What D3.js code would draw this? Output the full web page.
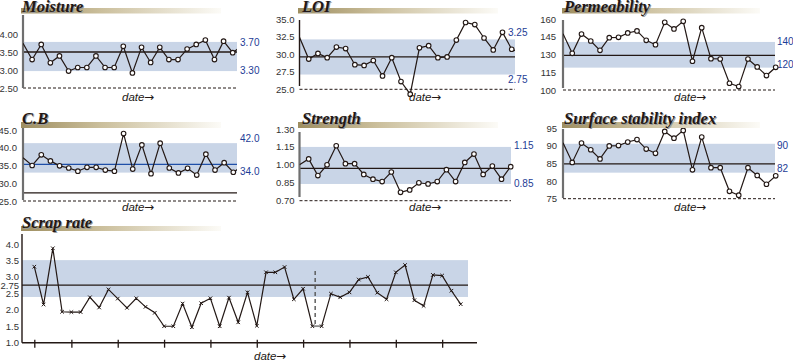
<!DOCTYPE html>
<html>
<head>
<meta charset="utf-8">
<script src="https://cdn.jsdelivr.net/npm/d3@7"></script>
<style>
body { margin: 0; background: #fff; }
svg { display: block; font-family: "Liberation Sans", Arial, sans-serif; }
</style>
</head>
<body>
<svg id="chart" width="793" height="361"></svg>
<script>
// ---- data (first value sits on the axis, extra last value runs past the edge) ----
var moisture = [3.74,3.29,3.71,3.20,3.39,2.97,3.07,3.07,3.39,3.07,3.07,3.66,2.92,3.63,3.21,3.63,3.29,3.29,3.58,3.71,3.83,3.29,3.80,3.48,3.67];
var loi = [32.4,29.3,30.1,29.5,31.0,30.8,28.5,28.4,29.1,26.9,29.5,26.1,24.3,30.9,31.2,29.5,29.6,32.0,34.5,34.2,32.3,30.6,33.1,30.7,30.2];
var permeability = [147.6,131.0,147.3,141.4,133.5,144.2,144.5,148.2,149.9,142.0,138.3,157.2,151.6,158.0,124.3,152.7,126.5,126.2,105.7,102.9,126.2,119.5,112.2,119.2];
var cb = [37.2,35.0,38.0,36.3,34.9,34.3,33.4,34.5,34.5,33.7,33.4,44.0,34.0,40.8,32.7,41.3,34.3,32.9,34.2,32.3,38.2,33.7,35.8,33.1,34.9];
var strength = [1.00,1.05,0.91,1.00,1.16,1.01,1.01,0.92,0.88,0.86,0.94,0.77,0.79,0.85,0.84,0.86,0.96,0.86,1.02,1.09,0.92,0.99,0.88,0.985];
var surface = [90.9,85.3,90.8,88.9,86.3,90.0,90.1,91.1,91.8,89.1,87.9,94.1,92.2,94.4,83.2,92.5,83.8,83.8,77.1,76.0,83.8,81.6,79.1,81.5];
var scrap = [3.31,2.16,3.87,1.94,1.93,1.93,2.38,2.07,2.62,2.34,2.06,2.35,2.09,1.91,1.50,1.50,2.19,1.47,2.20,2.35,1.50,2.37,1.62,2.53,
             1.51,3.14,3.14,3.30,2.32,2.64,1.50,1.50,2.49,2.38,2.53,2.92,3.00,2.52,2.32,3.14,3.36,2.29,2.12,3.06,3.04,2.58,2.17];

// shaded band [low, high], centre line, limit texts, tick values
var moistureBand = [2.97, 3.78], moistureCenter = 3.5, moistureLimits = ["3.70", "3.30"], moistureTicks = [2.5, 3.0, 3.5, 4.0];
var loiBand = [27.1, 32.1], loiCenter = 29.6, loiLimits = ["3.25", "2.75"], loiTicks = [25, 27.5, 30, 32.5, 35];
var permBand = [118.9, 140.6], permCenter = 129.3, permLimits = ["140", "120"], permTicks = [100, 115, 130, 145, 160];
var cbBand = [33.0, 41.3], cbCenter = 35.3, cbLower = 27.3, cbLimits = ["42.0", "34.0"], cbTicks = [25, 30, 35, 40, 45];
var strengthBand = [0.84, 1.15], strengthCenter = 0.97, strengthLimits = ["1.15", "0.85"], strengthTicks = [0.70, 0.85, 1.00, 1.15, 1.30];
var surfaceBand = [82.4, 90.6], surfaceCenter = 84.9, surfaceLimits = ["90", "82"], surfaceTicks = [75, 80, 85, 90, 95];
var scrapBand = [2.39, 3.51], scrapCenter = 2.75, scrapTicks = [1.0, 1.5, 2.0, 2.5, 2.75, 3.0, 3.5, 4.0];
var scrapDateTicks = [0, 4, 9, 14, 19, 24, 29, 34, 39, 44];
var scrapBreak = {at: 30.3, from: 1.48, to: 3.18, grey: [30, 31]};

var ink = "#231815", bandFill = "#c9d5e7", limitBlue = "#1d3c96";

var svg = d3.select("#chart");
var defs = svg.append("defs");
var grad = defs.append("linearGradient").attr("id", "bar");
grad.append("stop").attr("offset", "0%").attr("stop-color", "#9e8e60");
grad.append("stop").attr("offset", "40%").attr("stop-color", "#cbbf9c");
grad.append("stop").attr("offset", "100%").attr("stop-color", "#fcfbf7");

function drawTitle(text, x, base, barX, barY, barW, barH) {
    svg.append("rect").attr("x", barX).attr("y", barY)
        .attr("width", barW).attr("height", barH).attr("fill", "url(#bar)");
    [["#9a9a9a", 1], [ink, 0]].forEach(function(s) {
        svg.append("text").attr("x", x + s[1]).attr("y", base + s[1])
            .attr("font-family", "'Liberation Serif', 'Times New Roman', serif")
            .attr("font-weight", "bold").attr("font-style", "italic")
            .attr("font-size", 16.5).attr("fill", s[0]).text(text);
    });
}

function drawDate(x, base) {
    var t = svg.append("text").attr("x", x).attr("y", base)
        .attr("font-size", 11.5).attr("fill", ink);
    t.append("tspan").attr("font-style", "italic").text("date");
    t.append("tspan").attr("font-family", "'DejaVu Sans', sans-serif")
        .attr("font-size", 12).attr("dx", -0.5).text("→");
}

function drawPanel(p, i) {
    var g = svg.append("g");
    var x = d3.scaleLinear().domain([0, 23]).range([p.x0, p.xLast]);
    var y = d3.scaleLinear().domain(p.yDomain).range(p.yRange);

    g.append("rect")
        .attr("x", p.x0).attr("width", p.x1 - p.x0)
        .attr("y", y(p.band[1])).attr("height", y(p.band[0]) - y(p.band[1]))
        .attr("fill", bandFill);

    g.append("line").attr("x1", p.x0).attr("x2", p.x1)
        .attr("y1", y(p.center)).attr("y2", y(p.center))
        .attr("stroke", p.centerColor || ink).attr("stroke-width", 1.3);
    if (p.lower !== undefined) {
        g.append("line").attr("x1", p.x0).attr("x2", p.x1)
            .attr("y1", y(p.lower)).attr("y2", y(p.lower))
            .attr("stroke", ink).attr("stroke-width", 1.3);
    }

    // dashed baseline
    g.append("line").attr("x1", p.x0).attr("x2", p.x1)
        .attr("y1", y(p.yDomain[0])).attr("y2", y(p.yDomain[0]))
        .attr("stroke", ink).attr("stroke-dasharray", "3,2");

    // left axis
    g.append("line").attr("x1", p.x0).attr("x2", p.x0)
        .attr("y1", p.axisTop).attr("y2", p.axisBottom)
        .attr("stroke", p.axisColor).attr("stroke-width", p.axisWidth);

    var ax = g.append("g").attr("transform", `translate(${p.x0},0)`)
        .call(d3.axisLeft(y).tickValues(p.ticks).tickFormat(d3.format(p.fmt)).tickSize(0).tickPadding(p.pad));
    ax.select(".domain").remove();
    ax.selectAll("text").attr("font-size", 9.5).attr("fill", "#333")
        .attr("font-family", "'Liberation Sans', Arial, sans-serif");

    // limit labels
    [[p.band[1], p.limits[0], p.dyTop], [p.band[0], p.limits[1], p.dyBottom]].forEach(function(l) {
        g.append("text").attr("x", p.labelX).attr("y", y(l[0]) + l[2]).attr("dy", "0.35em")
            .attr("font-size", 10).attr("fill", limitBlue).text(l[1]);
    });

    // series
    var clipId = "clip" + i;
    defs.append("clipPath").attr("id", clipId).append("rect")
        .attr("x", p.x0).attr("y", 0).attr("width", p.x1 - p.x0).attr("height", 361);
    var line = d3.line().x((d, k) => x(k)).y(d => y(d));
    g.append("path").attr("d", line(p.values)).attr("clip-path", `url(#${clipId})`)
        .attr("fill", "none").attr("stroke", ink).attr("stroke-width", 1.2);
    g.selectAll("circle").data(p.values.slice(0, 24))
        .enter().filter((d, k) => k > 0)
        .append("circle")
        .attr("cx", (d, k) => x(k + 1)).attr("cy", d => y(d))
        .attr("r", 2.3).attr("fill", "#fff").attr("stroke", ink).attr("stroke-width", 1.1);

    drawTitle(p.title, p.titleX, p.titleBase, p.barX, p.barY, p.barW, p.barH);
    drawDate(p.dateX, p.dateBase);
}

var col = [
    {x0: 23, x1: 237, labelX: 240, dateX: 122, barX: 21, barW: 200, titleX: 22},
    {x0: 299.5, x1: 515, labelX: 508, dateX: 409, barX: 298, barW: 200, titleX: 302},
    {x0: 563, x1: 775, labelX: 777, dateX: 674, barX: 562, barW: 198, titleX: 564}
];
var row = [
    {barY: 8, barH: 5.5, titleBase: 11.5, dateBase: 101},
    {barY: 122, barH: 6, titleBase: 124, dateBase: 211}
];

var panels = [
    {title: "Moisture", values: moisture, band: moistureBand, center: moistureCenter, limits: moistureLimits,
     ticks: moistureTicks, fmt: ".2f", c: 0, r: 0, xLast: 232.7, yDomain: [2.5, 4.5], yRange: [88, 16],
     axisTop: 15, axisBottom: 88, axisColor: "#6f6f6f", axisWidth: 2.2, pad: 5, dyTop: 1, dyBottom: -1},
    {title: "LOI", values: loi, band: loiBand, center: loiCenter, limits: loiLimits,
     ticks: loiTicks, fmt: ".1f", c: 1, r: 0, xLast: 511.7, yDomain: [25, 35], yRange: [89.3, 19],
     axisTop: 20, axisBottom: 86, axisColor: ink, axisWidth: 1.4, pad: 5, dyTop: -7, dyBottom: 5},
    {title: "Permeability", values: permeability, band: permBand, center: permCenter, limits: permLimits,
     ticks: permTicks, fmt: "d", c: 2, r: 0, xLast: 775.7, yDomain: [100, 160], yRange: [90, 19],
     axisTop: 20, axisBottom: 88, axisColor: "#6f6f6f", axisWidth: 2.2, pad: 7, dyTop: 0, dyBottom: -3},
    {title: "C.B", values: cb, band: cbBand, center: cbCenter, centerColor: "#1f4fa8", lower: cbLower, limits: cbLimits,
     ticks: cbTicks, fmt: ".1f", c: 0, r: 1, xLast: 233.3, yDomain: [25, 45], yRange: [201, 130],
     axisTop: 128, axisBottom: 200, axisColor: "#6f6f6f", axisWidth: 2.2, pad: 6, dyTop: -5, dyBottom: -1},
    {title: "Strength", values: strength, band: strengthBand, center: strengthCenter, limits: strengthLimits,
     ticks: strengthTicks, fmt: ".2f", c: 1, r: 1, xLast: 510.7, yDomain: [0.7, 1.3], yRange: [200.7, 129],
     axisTop: 132, axisBottom: 197, axisColor: "#6f6f6f", axisWidth: 2.2, pad: 5, dyTop: -1, dyBottom: 0},
    {title: "Surface stability index", values: surface, band: surfaceBand, center: surfaceCenter, limits: surfaceLimits,
     ticks: surfaceTicks, fmt: "d", c: 2, r: 1, xLast: 775.7, yDomain: [75, 95], yRange: [198.7, 128.3],
     axisTop: 129, axisBottom: 198, axisColor: "#6f6f6f", axisWidth: 2.2, pad: 6, dyTop: 2, dyBottom: -4}
];

panels.forEach(function(p, i) {
    var c = col[p.c], r = row[p.r];
    var cfg = Object.assign({}, c, r, p);
    if (p.title === "Strength") { cfg.x1 = 511; cfg.labelX = 514; }
    drawPanel(cfg, i);
});

// ---- scrap rate ----
(function() {
    var x0 = 22, bandEnd = 468, axisEnd = 477;
    var x = d3.scaleLinear().domain([0, 46]).range([34.3, 460.7]);
    var y = d3.scaleLinear().domain([1, 4]).range([342.7, 244]);
    var g = svg.append("g");

    g.append("rect").attr("x", x0).attr("width", bandEnd - x0)
        .attr("y", y(scrapBand[1])).attr("height", y(scrapBand[0]) - y(scrapBand[1]))
        .attr("fill", bandFill);
    g.append("line").attr("x1", x0).attr("x2", bandEnd)
        .attr("y1", y(scrapCenter)).attr("y2", y(scrapCenter))
        .attr("stroke", ink).attr("stroke-width", 1.3);

    // axes
    g.append("line").attr("x1", x0).attr("x2", x0).attr("y1", 234).attr("y2", y(1))
        .attr("stroke", ink).attr("stroke-width", 1.4);
    g.append("line").attr("x1", x0).attr("x2", axisEnd).attr("y1", y(1)).attr("y2", y(1))
        .attr("stroke", ink).attr("stroke-width", 1.4);
    var xa = g.append("g").attr("transform", `translate(0,${y(1) - 3})`)
        .call(d3.axisBottom(x).tickValues(scrapDateTicks).tickFormat("").tickSize(8));
    xa.select(".domain").remove();
    xa.selectAll("line").attr("stroke", ink).attr("stroke-width", 1.3);

    var ya = g.append("g").attr("transform", `translate(${x0},0)`)
        .call(d3.axisLeft(y).tickValues(scrapTicks).tickFormat(d => d === 2.75 ? "2.75" : d3.format(".1f")(d))
            .tickSize(0).tickPadding(3));
    ya.select(".domain").remove();
    ya.selectAll("text").attr("font-size", 9.5).attr("fill", "#333")
        .attr("font-family", "'Liberation Sans', Arial, sans-serif");

    // dashed break marker
    g.append("line").attr("x1", x(scrapBreak.at)).attr("x2", x(scrapBreak.at))
        .attr("y1", y(scrapBreak.to)).attr("y2", y(scrapBreak.from))
        .attr("stroke", "#555").attr("stroke-width", 1.4).attr("stroke-dasharray", "4,3");

    var line = d3.line().x((d, k) => x(k)).y(d => y(d));
    g.append("path").attr("d", line(scrap)).attr("fill", "none")
        .attr("stroke", ink).attr("stroke-width", 1.2);
    var gi = scrapBreak.grey;
    g.append("line").attr("x1", x(gi[0])).attr("x2", x(gi[1]))
        .attr("y1", y(scrap[gi[0]])).attr("y2", y(scrap[gi[1]]))
        .attr("stroke", "#8a8a8a").attr("stroke-width", 1.6);

    g.selectAll("path.mark").data(scrap).enter().append("path")
        .attr("class", "mark")
        .attr("d", d3.symbol(d3.symbolX, 10))
        .attr("transform", (d, k) => `translate(${x(k)},${y(d)})`)
        .attr("stroke", ink).attr("stroke-width", 1);

    drawTitle("Scrap rate", 22, 228, 21, 226, 200, 5);
    drawDate(254, 360);
})();
</script>
</body>
</html>
